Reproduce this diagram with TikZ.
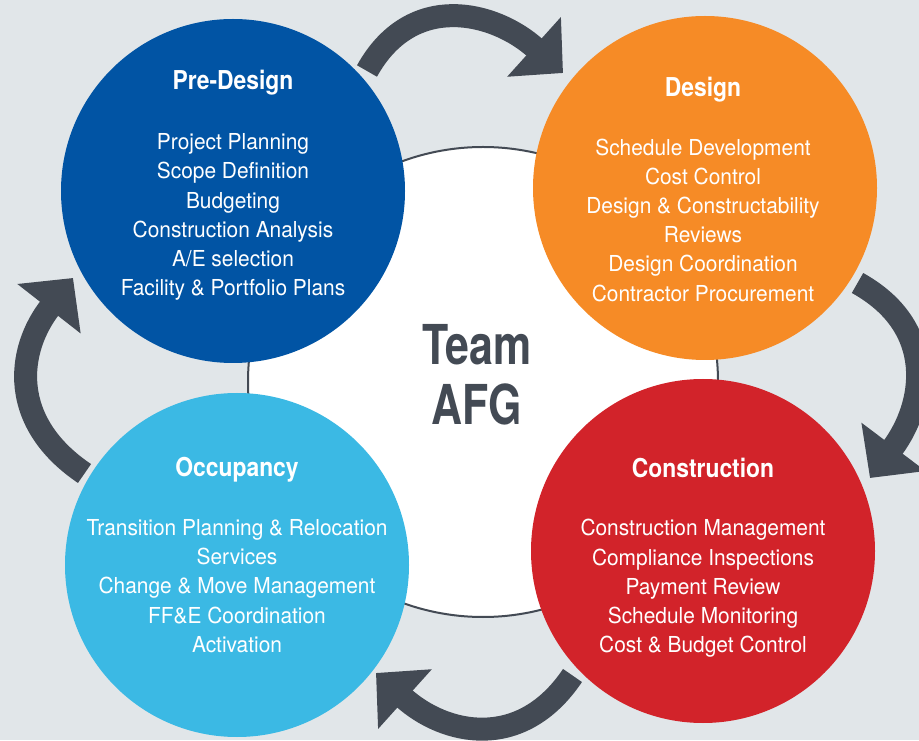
\documentclass[tikz,border=0pt]{standalone}
\usepackage{fontspec}
\setmainfont{TeX Gyre Heros}[FakeStretch=0.95]
\newfontfamily\headfont{TeX Gyre Heros}[FakeStretch=0.88]
\newfontfamily\teamfont{TeX Gyre Heros}[FakeStretch=0.78]
\usetikzlibrary{arrows.meta}
\definecolor{bggrey}{HTML}{E1E6E9}
\definecolor{arrowgrey}{HTML}{434A54}
\definecolor{predesign}{HTML}{0154A4}
\definecolor{design}{HTML}{F68B26}
\definecolor{construction}{HTML}{D2232A}
\definecolor{occupancy}{HTML}{3BB9E4}

\begin{document}
\begin{tikzpicture}[x=1pt, y=1pt,
    phase/.style={circle, minimum size=344pt, inner sep=0pt},
    title/.style={text=white, font=\headfont\bfseries\fontsize{26}{30}\selectfont},
    tasks/.style={text=white, align=center, font=\fontsize{22}{29.2}\selectfont},
    flow/.style={draw=arrowgrey, line width=23pt, -{Triangle[length=39pt, width=78pt]}, looseness=1.2}]

    \useasboundingbox (0,0) rectangle (919,740);
    \fill[bggrey] (0,0) rectangle (919,740);

    \node[circle, minimum size=470pt, fill=white, draw=arrowgrey, line width=2pt] (team) at (483,358) {};
    \node[text=arrowgrey, align=center, font=\teamfont\bfseries\fontsize{55}{60}\selectfont] (teamname) at (477,365) {Team\\AFG};

    \node[phase, fill=predesign] (pre) at (233,549) {};
    \node[phase, fill=design] (des) at (705,552) {};
    \node[phase, fill=construction] (con) at (703,189) {};
    \node[phase, fill=occupancy] (occ) at (237,175) {};

    \node[title] (pretitle) at (233,657) {Pre-Design};
    \node[tasks] (pretasks) at (233,523) {Project Planning\\Scope Definition\\Budgeting\\Construction Analysis\\A/E selection\\Facility \& Portfolio Plans};
    \node[title] (destitle) at (703,650) {Design};
    \node[tasks] (destasks) at (703,520) {Schedule Development\\Cost Control\\Design \& Constructability\\Reviews\\Design Coordination\\Contractor Procurement};
    \node[title] (contitle) at (703,272) {Construction};
    \node[tasks] (contasks) at (703,151.5) {Construction Management\\Compliance Inspections\\Payment Review\\Schedule Monitoring\\Cost \& Budget Control};
    \node[title] (occtitle) at (237,270) {Occupancy};
    \node[tasks] (occtasks) at (237,154) {Transition Planning \& Relocation\\Services\\Change \& Move Management\\FF\&E Coordination\\Activation};

    \coordinate (t1) at (367,669);
    \coordinate (h1) at (563,667);
    \coordinate (t2) at (857.5,457);
    \coordinate (h2) at (870,262);
    \coordinate (t3) at (572.5,64.5);
    \coordinate (h3) at (376,67);
    \coordinate (t4) at (84.5,266.5);
    \coordinate (h4) at (73,462);

    \draw[flow] (t1) to[out=61, in=138] (h1);
    \draw[flow] (t2) to[out=-29, in=53] (h2);
    \draw[flow] (t3) to[out=236, in=-42] (h3);
    \draw[flow] (t4) to[out=146, in=232] (h4);

\end{tikzpicture}
\end{document}
